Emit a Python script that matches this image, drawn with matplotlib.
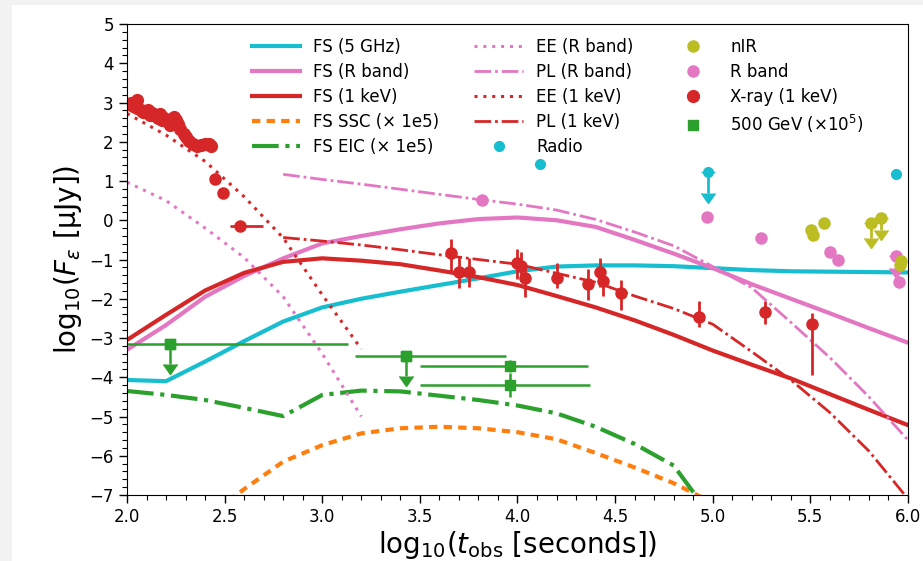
import numpy as np
import matplotlib
matplotlib.use("Agg")
import matplotlib.pyplot as plt
from matplotlib.patches import Rectangle

nan = np.nan

# ---- model curves (log10 t_obs grid) ----
log_t = [2.0, 2.2, 2.4, 2.6, 2.8, 3.0, 3.2, 3.4, 3.6, 3.8, 4.0,
         4.2, 4.4, 4.6, 4.8, 5.0, 5.2, 5.4, 5.6, 5.8, 6.0]
fs_radio = [-4.07, -4.10, -3.60, -3.08, -2.58, -2.22, -2.00, -1.82, -1.65, -1.48, -1.30,
            -1.18, -1.15, -1.15, -1.17, -1.22, -1.27, -1.30, -1.31, -1.32, -1.33]
fs_rband = [-3.30, -2.67, -1.95, -1.42, -0.97, -0.59, -0.40, -0.23, -0.08, 0.03, 0.07,
            0.00, -0.17, -0.50, -0.85, -1.22, -1.63, -2.00, -2.37, -2.75, -3.12]
fs_xray = [-3.05, -2.41, -1.79, -1.34, -1.06, -0.97, -1.03, -1.12, -1.28, -1.45, -1.65,
           -1.93, -2.22, -2.55, -2.92, -3.32, -3.68, -4.03, -4.43, -4.83, -5.22]
fs_ssc = [nan, nan, -7.60, -6.85, -6.15, -5.73, -5.43, -5.30, -5.26, -5.30, -5.40,
          -5.58, -5.93, -6.30, -6.70, -7.20, nan, nan, nan, nan, nan]
fs_eic = [-4.35, -4.45, -4.58, -4.78, -4.99, -4.45, -4.34, -4.36, -4.47, -4.58, -4.72,
          -4.92, -5.26, -5.70, -6.25, -7.60, nan, nan, nan, nan, nan]

log_t_ee = [2.0, 2.2, 2.4, 2.6, 2.8, 3.0, 3.2]
ee_rband = [0.97, 0.50, -0.20, -0.95, -1.95, -3.40, -5.00]
ee_xray = [2.72, 2.17, 1.50, 0.60, -0.45, -1.90, -3.28]

log_t_pl = [2.8, 3.0, 3.2, 3.4, 3.6, 3.8, 4.0, 4.2, 4.4, 4.6, 4.8, 5.0, 5.2, 5.4, 5.6, 5.8, 6.0]
pl_rband = [1.17, 1.04, 0.92, 0.79, 0.66, 0.53, 0.41, 0.26, 0.02, -0.30, -0.65,
            -1.18, -1.72, -2.60, -3.50, -4.50, -5.60]
pl_xray = [-0.44, -0.53, -0.63, -0.75, -0.88, -1.00, -1.12, -1.35, -1.58, -1.93, -2.25,
           -2.65, -3.35, -4.07, -4.90, -5.88, -7.10]

# ---- observations ----
xray_early_t = [2.01, 2.02, 2.03, 2.04, 2.05, 2.05, 2.07, 2.08, 2.10, 2.11, 2.12, 2.13,
                2.15, 2.16, 2.17, 2.18, 2.19, 2.21, 2.22, 2.23, 2.24, 2.25, 2.26, 2.27,
                2.29, 2.30, 2.32, 2.34, 2.36, 2.38, 2.40, 2.42, 2.43]
xray_early_f = [2.95, 3.00, 2.90, 2.98, 3.06, 2.85, 2.80, 2.75, 2.76, 2.82, 2.68, 2.72,
                2.65, 2.60, 2.70, 2.56, 2.60, 2.50, 2.42, 2.56, 2.62, 2.56, 2.45, 2.32,
                2.20, 2.12, 2.02, 1.94, 1.90, 1.92, 1.93, 1.95, 1.90]
xray_t = [2.45, 2.49, 2.58, 3.66, 3.70, 3.75, 4.00, 4.02, 4.04, 4.20, 4.36, 4.42, 4.44,
          4.53, 4.93, 5.27, 5.51]
xray_f = [1.04, 0.69, -0.14, -0.84, -1.33, -1.33, -1.10, -1.17, -1.46, -1.46, -1.62, -1.33,
          -1.55, -1.86, -2.47, -2.35, -2.64]
xray_err_lo = [0, 0, 0, 0.51, 0.40, 0.36, 0.40, 0.35, 0.49, 0.27, 0.41, 0.36, 0.38, 0.43,
               0.24, 0.29, 1.30]
xray_err_hi = [0, 0, 0, 0.36, 0.40, 0.37, 0.36, 0.35, 0.24, 0.36, 0.37, 0.37, 0.28, 0.34,
               0.40, 0.28, 0.27]
xray_terr_lo = [0, 0, 0.05, 0, 0, 0, 0, 0, 0, 0, 0, 0, 0, 0, 0, 0, 0]
xray_terr_hi = [0, 0, 0.115, 0, 0, 0, 0, 0, 0, 0, 0, 0, 0, 0, 0, 0, 0]

radio_t = [4.115, 5.94]
radio_f = [1.43, 1.18]
radio_ul_t = [4.976]
radio_ul_f = [1.24]
radio_ul_len = [0.55]

rband_t = [3.82, 4.97, 5.245, 5.60, 5.64, 5.955]
rband_f = [0.52, 0.075, -0.46, -0.82, -1.01, -1.57]
rband_ul_t = [5.94]
rband_ul_f = [-0.90]
rband_ul_len = [0.32]

nir_t = [5.503, 5.515, 5.57, 5.96, 5.965]
nir_f = [-0.25, -0.38, -0.06, -1.14, -1.05]
nir_err = [0, 0, 0.10, 0, 0]
nir_ul_t = [5.81, 5.86]
nir_ul_f = [-0.06, 0.07]
nir_ul_len = [0.38, 0.32]

gev_t = [2.22, 3.43, 3.96, 3.96]
gev_f = [-3.15, -3.46, -3.71, -4.20]
gev_terr_lo = [0.22, 0.26, 0.46, 0.46]
gev_terr_hi = [0.91, 0.51, 0.40, 0.41]
gev_ferr = [0.52, 0.52, 0.15, 0.30]
gev_is_ul = [True, True, False, False]

C_CYAN = '#17becf'
C_PINK = '#e377c2'
C_RED = '#d62728'
C_ORANGE = '#ff7f0e'
C_GREEN = '#2ca02c'
C_OLIVE = '#bcbd22'

fig = plt.figure(figsize=(9.23, 5.61), dpi=100, facecolor='#f2f2f2')
fig.patches.append(Rectangle((12 / 923, 0), 1, (561 - 5) / 561, transform=fig.transFigure,
                             facecolor='white', edgecolor='none', zorder=-10))
ax = fig.add_axes([127 / 923, (561 - 495) / 561, (908 - 127) / 923, (495 - 24) / 561])
ax.set_zorder(5)

dashdot_pl = (0, (6, 1.4, 1, 1.4))
dotted_ee = (0, (1, 1.9))
h = []
h += ax.plot(log_t, fs_radio, color=C_CYAN, lw=3, label='FS (5 GHz)')
h += ax.plot(log_t, fs_rband, color=C_PINK, lw=3, label='FS (R band)')
h += ax.plot(log_t, fs_xray, color=C_RED, lw=3, label='FS (1 keV)')
h += ax.plot(log_t, fs_ssc, color=C_ORANGE, lw=3, ls=(0, (2, 1.5)), label='FS SSC (× 1e5)')
h += ax.plot(log_t, fs_eic, color=C_GREEN, lw=3, ls='-.', label='FS EIC (× 1e5)')
h += ax.plot(log_t_ee, ee_rband, color=C_PINK, lw=2.2, ls=dotted_ee, label='EE (R band)')
h += ax.plot(log_t_pl, pl_rband, color=C_PINK, lw=2, ls=dashdot_pl, label='PL (R band)')
h += ax.plot(log_t_ee, ee_xray, color=C_RED, lw=2.2, ls=dotted_ee, label='EE (1 keV)')
h += ax.plot(log_t_pl, pl_xray, color=C_RED, lw=2, ls=dashdot_pl, label='PL (1 keV)')

# radio
hr, = ax.plot(radio_t, radio_f, 'o', color=C_CYAN, ms=7, label='Radio')
ax.errorbar(radio_ul_t, radio_ul_f, yerr=radio_ul_len, uplims=True, fmt='o', color=C_CYAN,
            ms=7, lw=2, capsize=5)
h.append(hr)

# nIR
hn, = ax.plot(nir_t, nir_f, 'o', color=C_OLIVE, ms=8, label='nIR', zorder=4)
ax.errorbar(nir_t, nir_f, yerr=nir_err, fmt='none', ecolor=C_OLIVE, lw=2, zorder=4)
ax.errorbar(nir_ul_t, nir_ul_f, yerr=nir_ul_len, uplims=True, fmt='o', color=C_OLIVE,
            ms=8, lw=2, capsize=5, zorder=4)

# R band
hp, = ax.plot(rband_t, rband_f, 'o', color=C_PINK, ms=8, label='R band', zorder=3)
ax.errorbar(rband_ul_t, rband_ul_f, yerr=rband_ul_len, uplims=True, fmt='o', color=C_PINK,
            ms=8, lw=2, capsize=5, zorder=3)

# X-ray
hx, = ax.plot(xray_early_t, xray_early_f, 'o', color=C_RED, ms=8.5, label='X-ray (1 keV)')
ax.errorbar(xray_t, xray_f, yerr=[xray_err_lo, xray_err_hi],
            xerr=[xray_terr_lo, xray_terr_hi], fmt='o', color=C_RED, ms=8, lw=2)

# 500 GeV
for t, f, tl, th, fe, ul in zip(gev_t, gev_f, gev_terr_lo, gev_terr_hi, gev_ferr, gev_is_ul):
    if ul:
        ax.errorbar([t], [f], xerr=[[tl], [th]], fmt='s', color=C_GREEN, ms=7.5, lw=1.8)
        ax.errorbar([t], [f], yerr=[fe], uplims=True, fmt='s', color=C_GREEN, ms=7.5,
                    lw=1.8, capsize=5)
    else:
        ax.errorbar([t], [f], xerr=[[tl], [th]], yerr=[[fe], [fe]], fmt='s',
                    color=C_GREEN, ms=7.5, lw=1.8)
hg, = ax.plot([], [], 's', color=C_GREEN, ms=7.5, label=r'500 GeV ($\times10^5$)')

h += [hn, hp, hx, hg]

ax.set_xlim(2.0, 6.0)
ax.set_ylim(-7, 5)
ax.set_xticks([2.0, 2.5, 3.0, 3.5, 4.0, 4.5, 5.0, 5.5, 6.0])
ax.set_yticks(range(-7, 6))
ax.set_xticks(np.arange(2.0, 6.001, 0.1), minor=True)
ax.set_yticks(np.arange(-7, 5.001, 0.2), minor=True)
ax.tick_params(which='both', direction='out', top=False, right=False, labelsize=12)
ax.tick_params(which='major', length=6, width=1)
ax.tick_params(which='minor', length=3.5, width=0.8)
ax.set_xlabel(r'$\mathrm{log}_{10}(t_{\rm obs}$ [seconds]$)$', fontsize=20, labelpad=2)
ax.set_ylabel(r'$\mathrm{log}_{10}(F_\varepsilon$ [μJy]$)$', fontsize=20, labelpad=4)

ax.legend(handles=h, ncol=3, loc='upper left', bbox_to_anchor=(0.151, 0.985),
          borderaxespad=0, frameon=False, fontsize=12, handlelength=2.9,
          columnspacing=2.1, labelspacing=0.42)

fig.savefig('out.png', dpi=100, facecolor=fig.get_facecolor())
